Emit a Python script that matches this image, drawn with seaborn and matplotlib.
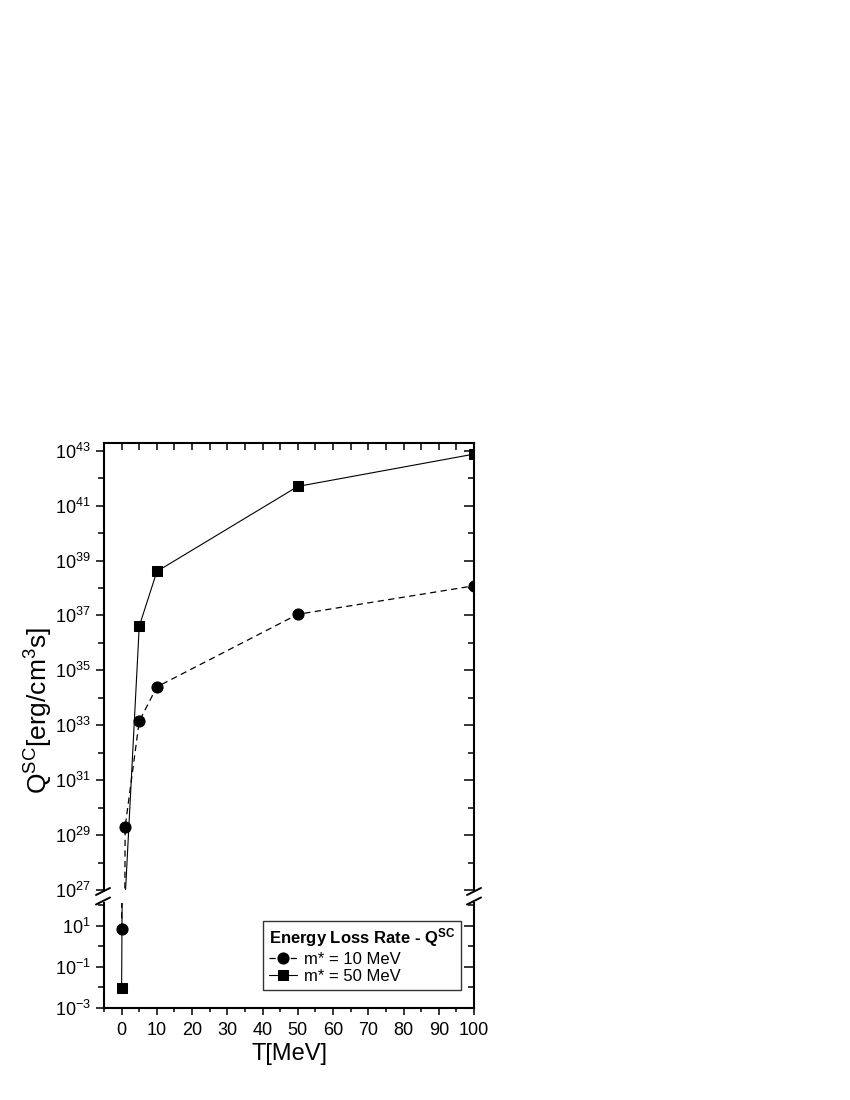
import math
import matplotlib
matplotlib.use("Agg")
import matplotlib.pyplot as plt
import matplotlib.ticker as mticker
from matplotlib.lines import Line2D
import seaborn as sns

sns.set_theme(style="ticks")
plt.rcParams["font.family"] = ["Liberation Sans", "DejaVu Sans"]
plt.rcParams["mathtext.fontset"] = "custom"
plt.rcParams["mathtext.rm"] = "Liberation Sans"
plt.rcParams["mathtext.it"] = "Liberation Sans:italic"
plt.rcParams["mathtext.bf"] = "Liberation Sans:bold"
for key in ("text.color", "axes.labelcolor", "xtick.color", "ytick.color", "axes.edgecolor"):
    plt.rcParams[key] = "black"

# 数据
T = [0, 1, 5, 10, 50, 100]
Q_m10 = [7.0, 2e29, 1.4e33, 2.5e34, 1.1e37, 1.2e38]
Q_m50 = [9e-3, 5e26, 4e36, 4e38, 5e41, 7.5e42]
labels = ["m* = 10 MeV", "m* = 50 MeV"]

upper_major = [10.0 ** e for e in range(27, 44, 2)]
upper_minor = [10.0 ** e for e in range(28, 44, 2)]
lower_major = [1e-3, 1e-1, 1e1]
lower_minor = [1e-2, 1e0, 1e2]

fig = plt.figure(figsize=(8.5, 11), dpi=100)
W, H = 850, 1100


def px(x0, y0, w, h):
    return [x0 / W, 1 - (y0 + h) / H, w / W, h / H]


ax_up = fig.add_axes(px(104, 443, 370, 447))
ax_lo = fig.add_axes(px(104, 903, 370, 105))


def sci(v, pos):
    e = int(round(math.log10(v)))
    return r"$\mathregular{10^{%d}}$" % e


for ax in (ax_up, ax_lo):
    sns.lineplot(x=T, y=Q_m10, ax=ax, color="black", marker="o", markersize=8,
                 markeredgecolor="black", linewidth=0.9)
    sns.lineplot(x=T, y=Q_m50, ax=ax, color="black", marker="s", markersize=7,
                 markeredgecolor="black", linewidth=0.8)
    ax.lines[0].set_linestyle((0, (5, 3.5)))
    ax.set_yscale("log")
    ax.set_xlim(-5, 100)
    for s in ax.spines.values():
        s.set_linewidth(1.5)
    ax.set_ylabel("")

ax_up.set_ylim(1e27, 10 ** 43.28)
ax_lo.set_ylim(1e-3, 10 ** 2.12)

ax_up.spines["bottom"].set_visible(False)
ax_lo.spines["top"].set_visible(False)

# x 轴刻度
ax_up.xaxis.set_major_locator(mticker.MultipleLocator(10))
ax_up.xaxis.set_minor_locator(mticker.MultipleLocator(5))
ax_up.tick_params(axis="x", which="both", bottom=False, top=True, labelbottom=False,
                  direction="in", length=5, width=1.1)
ax_lo.set_xticks(range(0, 101, 10))
ax_lo.xaxis.set_minor_locator(mticker.MultipleLocator(5))
ax_lo.set_xlim(-5, 100)
ax_lo.tick_params(axis="x", which="major", direction="out", length=5, width=1.1,
                  labelsize=13, pad=5)
ax_lo.tick_params(axis="x", which="minor", direction="out", length=3, width=1.1)
ax_lo.set_xlabel("T[MeV]", fontsize=17, labelpad=3)

# y 轴刻度（左侧朝外，右侧朝内）
for ax, maj, mnr in ((ax_up, upper_major, upper_minor), (ax_lo, lower_major, lower_minor)):
    ax.yaxis.set_major_locator(mticker.FixedLocator(maj))
    ax.yaxis.set_minor_locator(mticker.FixedLocator(mnr))
    ax.yaxis.set_major_formatter(mticker.FuncFormatter(sci))
    ax.yaxis.set_minor_formatter(mticker.NullFormatter())
    ax.tick_params(axis="y", which="major", direction="out", length=6, width=1.1,
                   labelsize=13)
    ax.tick_params(axis="y", which="minor", direction="out", length=4, width=1.1)
    axr = ax.twinx()
    axr.set_yscale("log")
    axr.set_ylim(ax.get_ylim())
    axr.yaxis.set_major_locator(mticker.FixedLocator(maj))
    axr.yaxis.set_minor_locator(mticker.FixedLocator(mnr))
    axr.tick_params(axis="y", which="major", direction="in", length=7, width=1.1,
                    labelright=False)
    axr.tick_params(axis="y", which="minor", direction="in", length=4, width=1.1,
                    labelright=False)
    for s in axr.spines.values():
        s.set_visible(False)

fig.text(39 / W, 1 - 711 / H, r"$\mathregular{Q^{SC}[erg/cm^{3}s]}$", rotation=90,
         ha="center", va="center", fontsize=19)

# 断轴标记
for xc in (103, 474):
    for yc in (891.5, 901):
        fig.add_artist(Line2D([(xc - 7) / W, (xc + 7) / W],
                              [1 - (yc + 3.5) / H, 1 - (yc - 3.5) / H],
                              color="black", linewidth=1.4))

handles = [ax_lo.lines[0], ax_lo.lines[1]]
leg = ax_lo.legend(handles, labels, loc="lower right", bbox_to_anchor=(0.965, 0.17),
                   borderaxespad=0, fontsize=12, frameon=True, fancybox=False,
                   handlelength=1.7, handletextpad=0.4, borderpad=0.35,
                   labelspacing=0.15,
                   title=r"Energy Loss Rate - $\mathbf{Q^{SC}}$",
                   title_fontproperties={"weight": "bold", "size": 12})
leg._legend_box.align = "left"
leg.get_frame().set_edgecolor("black")
leg.get_frame().set_linewidth(1.0)

fig.savefig("out.png", dpi=100)
